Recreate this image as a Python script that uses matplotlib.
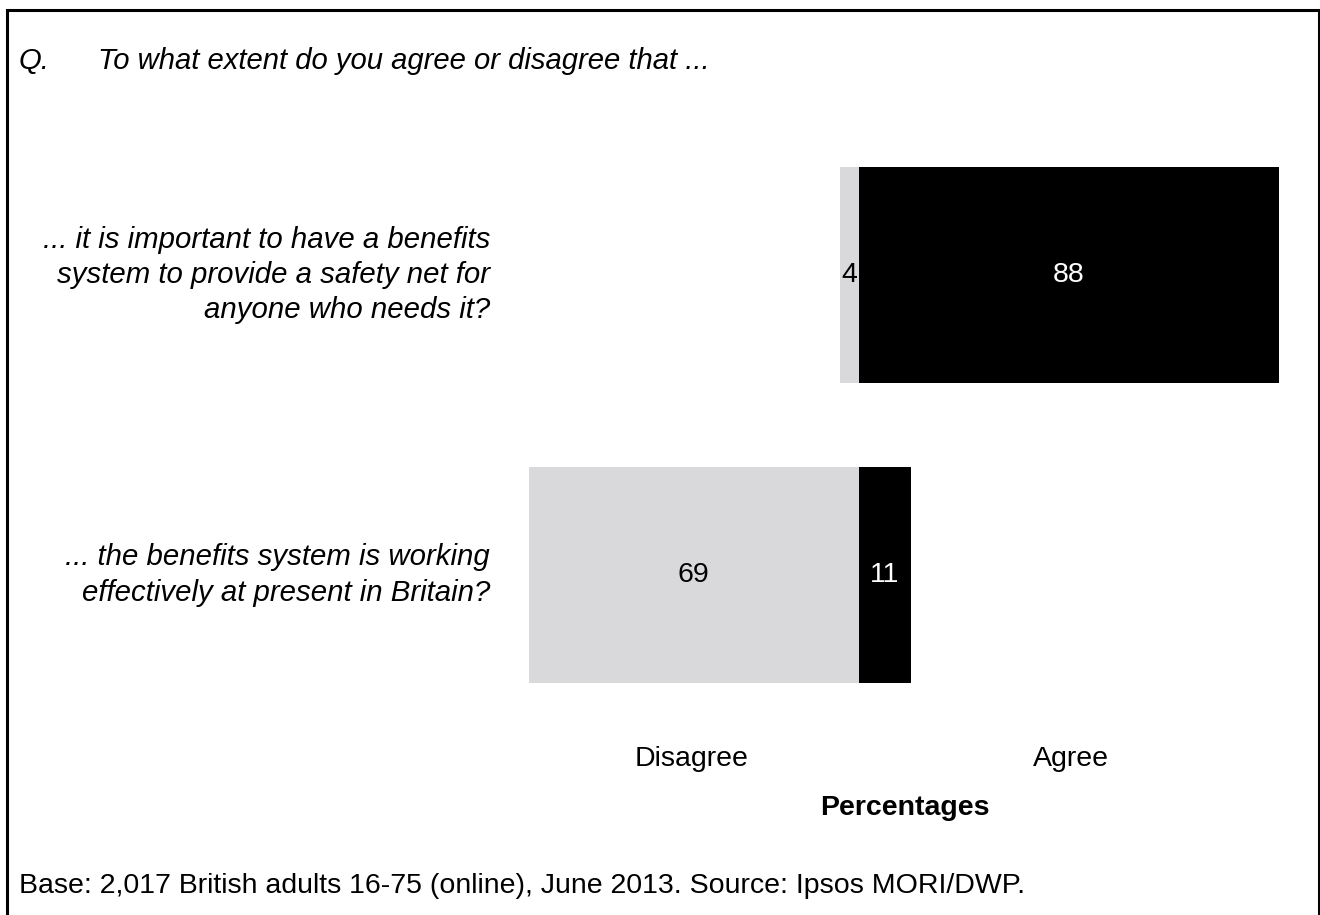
import matplotlib
matplotlib.use("Agg")
import matplotlib.pyplot as plt
from matplotlib.patches import Rectangle

# Survey data
questions = [
    "... it is important to have a benefits\nsystem to provide a safety net for\nanyone who needs it?",
    "... the benefits system is working\neffectively at present in Britain?",
]
disagree = [4, 69]
agree = [88, 11]

GREY = "#D9D9DB"
BLACK = "#000000"
FONT = "Liberation Sans"
FS = 20.5

plt.rcParams["font.family"] = [FONT, "DejaVu Sans"]

fig = plt.figure(figsize=(13.2, 9.15), dpi=100)
W, H = 1320, 915

# Axes placed in pixel terms: x spans the diverging bars, y holds two rows
ax = fig.add_axes([529 / W, (H - 725) / H, 750 / W, 600 / H])
ypos = list(range(len(questions)))
bar_h = 0.72

ax.barh(ypos, [-d for d in disagree], height=bar_h, color=GREY, edgecolor="none")
ax.barh(ypos, agree, height=bar_h, color=BLACK, edgecolor="none")

ax.set_xlim(-69, 88)
ax.set_ylim(1.5, -0.5)
ax.axis("off")

# Value labels
for y, d, a in zip(ypos, disagree, agree):
    ax.text(-d / 2, y, str(d), ha="center", va="center", fontsize=FS, color="#000000")
    ax.text(a / 2, y, str(a), ha="center", va="center", fontsize=FS, color="#FFFFFF")

# Question labels to the left
for y, q in zip(ypos, questions):
    ax.annotate(q, xy=(0, y), xycoords=("figure fraction", "data"),
                xytext=(490 / W, 0), textcoords=("figure fraction", "offset points"),
                ha="right", va="center", fontsize=21.2, style="italic",
                linespacing=1.33)

def fx(px):
    return px / W

def fy(py):
    return 1 - py / H

fig.text(fx(19), fy(61), "Q.", fontsize=21.1, style="italic", va="center", ha="left")
fig.text(fx(98), fy(61), "To what extent do you agree or disagree that ...",
         fontsize=21.1, style="italic", va="center", ha="left")

fig.text(fx(692), fy(759), "Disagree", fontsize=FS, ha="center", va="center")
fig.text(fx(1071), fy(759), "Agree", fontsize=FS, ha="center", va="center")
fig.text(fx(905), fy(808), "Percentages", fontsize=FS, fontweight="bold",
         ha="center", va="center")

fig.text(fx(19), fy(886),
         "Base: 2,017 British adults 16-75 (online), June 2013. Source: Ipsos MORI/DWP.",
         fontsize=FS, ha="left", va="center")

# Outer frame
fig.patches.append(Rectangle((fx(7), fy(940)), fx(1319) - fx(7), fy(10) - fy(940),
                             transform=fig.transFigure, fill=False,
                             edgecolor="#000000", linewidth=2.2))

fig.savefig("out.png", dpi=100, facecolor="white")
